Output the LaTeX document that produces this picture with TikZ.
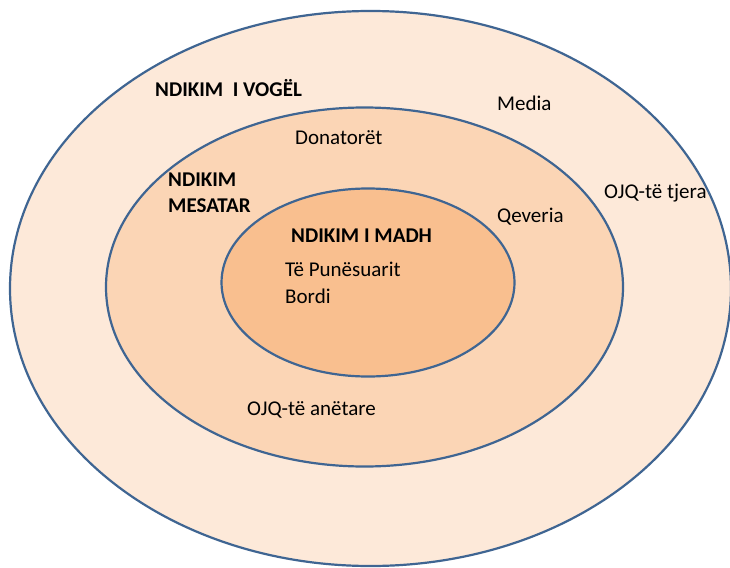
\documentclass[tikz,border=0pt]{standalone}
\usepackage{fontspec}
\setmainfont{Carlito}
\definecolor{ringline}{HTML}{3F6592}
\definecolor{lowfill}{HTML}{FDE9D9}
\definecolor{midfill}{HTML}{FBD5B5}
\definecolor{highfill}{HTML}{F9BF8F}
\tikzset{
  ring/.style={draw=ringline, line width=2.2pt},
  label/.style={anchor=west, inner sep=0pt, font=\fontsize{21}{26}\selectfont},
  title/.style={label, font=\fontsize{21}{26}\selectfont\bfseries}
}
\begin{document}
\begin{tikzpicture}[x=1pt, y=-1pt]
    % Frame
    \useasboundingbox (0,0) rectangle (730,567);
    \clip (0,0) rectangle (730,567);
    \fill[white] (0,0) rectangle (730,567);

    % Outer ring: small influence
    \draw[ring, fill=lowfill] (370.5,288.5) ellipse [x radius=360.5, y radius=277.5];
    % Middle ring: medium influence
    \draw[ring, fill=midfill] (364.5,287) ellipse [x radius=258.5, y radius=179.5];
    % Inner ring: large influence
    \draw[ring, fill=highfill] (368,282.5) ellipse [x radius=146.5, y radius=94];

    % Small influence
    \node[title] (vogel) at (155,88) {NDIKIM\ \ I VOGËL};
    \node[label] (media) at (497,103) {Media};
    \node[label] (tjera) at (604,193) {OJQ-të tjera};

    % Medium influence
    \node[title, align=left] (mesatar) at (168,193) {NDIKIM\\MESATAR};
    \node[label] (donatoret) at (295,138) {Donatorët};
    \node[label] (qeveria) at (497,217) {Qeveria};
    \node[label] (anetare) at (247,410) {OJQ-të anëtare};

    % Large influence
    \node[title] (madh) at (291,236) {NDIKIM I MADH};
    \node[label] (punesuarit) at (285,269) {Të Punësuarit};
    \node[label] (bordi) at (285,296) {Bordi};
\end{tikzpicture}
\end{document}
